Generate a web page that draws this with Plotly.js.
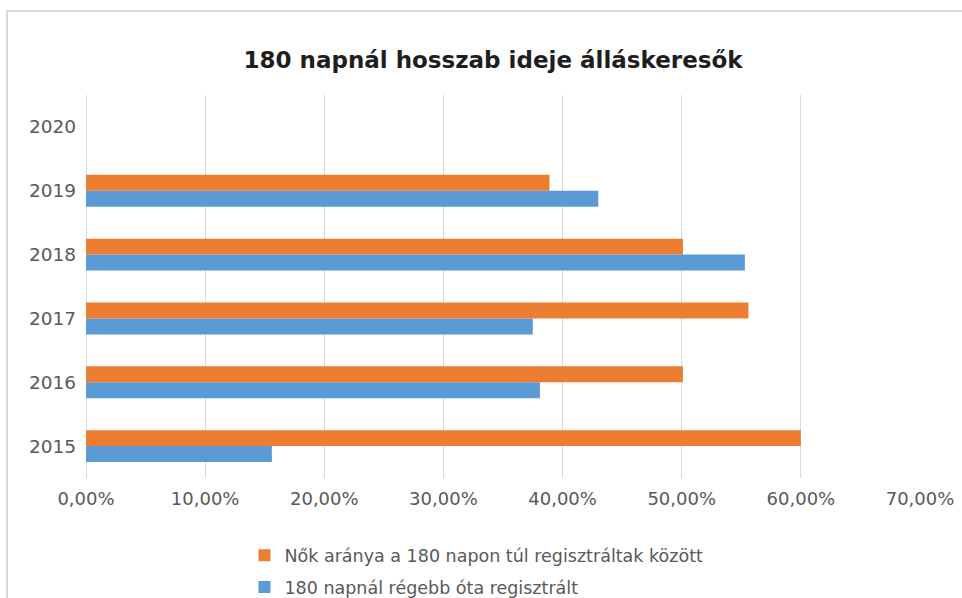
<!DOCTYPE html>
<html>
<head>
<meta charset="utf-8">
<script src="https://cdn.plot.ly/plotly-3.0.1.min.js"></script>
<style>
  html, body { margin: 0; padding: 0; background: #fff; }
  #wrap { position: relative; width: 962px; height: 598px; overflow: hidden; }
  #frame { position: absolute; left: 6px; top: 10px; width: 1000px; height: 700px;
           border-left: 2px solid #d9d9d9; border-top: 2px solid #d9d9d9; box-sizing: border-box; pointer-events: none; z-index: 2; }
  #chart { position: absolute; left: 0; top: 0; width: 962px; height: 598px; }
</style>
</head>
<body>
<div id="wrap">
  <div id="chart"></div>
  <div id="frame"></div>
</div>
<script>
const years = ['2015', '2016', '2017', '2018', '2019', '2020'];
const regisztralt = [0.156, 0.381, 0.375, 0.553, 0.430, null];
const nokAranya = [0.600, 0.501, 0.556, 0.501, 0.389, null];
const seriesNames = ['180 napnál régebb óta regisztrált', 'Nők aránya a 180 napon túl regisztráltak között'];
const titleText = '180 napnál hosszab ideje álláskeresők';
const tickVals = [0, 0.1, 0.2, 0.3, 0.4, 0.5, 0.6, 0.7];

const traces = [
  { type: 'bar', orientation: 'h', y: years, x: regisztralt, name: seriesNames[0],
    legendgroup: 'a', legendrank: 2, marker: { color: '#5B9BD5' }, hoverinfo: 'x+name' },
  { type: 'bar', orientation: 'h', y: years, x: nokAranya, name: seriesNames[1],
    legendgroup: 'b', legendrank: 1, marker: { color: '#ED7D31' }, hoverinfo: 'x+name' }
];

const layout = {
  width: 962, height: 598,
  margin: { l: 86, r: 42, t: 95, b: 120, autoexpand: false },
  paper_bgcolor: '#ffffff', plot_bgcolor: '#ffffff',
  separators: ', ',
  font: { family: 'DejaVu Sans', color: '#595959', size: 18 },
  title: { text: titleText, x: 0.5125, xref: 'container', xanchor: 'center', y: 1 - 60 / 598, yref: 'container', yanchor: 'middle',
           font: { family: 'DejaVu Sans', size: 23, weight: 'bold', color: '#1e1e1e' } },
  barmode: 'group', bargap: 0.5, bargroupgap: 0,
  xaxis: { range: [0, 0.7], tickvals: tickVals, tickformat: '.2%', showgrid: true, gridcolor: '#d9d9d9', gridwidth: 1,
           zeroline: true, zerolinecolor: '#d9d9d9', zerolinewidth: 1, showline: false, ticks: '',
           ticklabelstandoff: 8, tickfont: { size: 18, color: '#595959' }, fixedrange: true },
  yaxis: { type: 'category', categoryorder: 'array', categoryarray: years, range: [-0.5, 5.5],
           showgrid: false, zeroline: false, showline: false, ticks: '', ticklabelstandoff: 9,
           tickfont: { size: 18.5, color: '#595959' }, fixedrange: true },
  showlegend: true,
  legend: { orientation: 'v', x: 0.19, xanchor: 'left', y: -0.155, yanchor: 'top',
            traceorder: 'grouped', tracegroupgap: 6, font: { size: 17.5, color: '#595959' },
            bgcolor: 'rgba(0,0,0,0)' }
};

Plotly.newPlot('chart', traces, layout, { displayModeBar: false, staticPlot: false });
</script>
</body>
</html>
